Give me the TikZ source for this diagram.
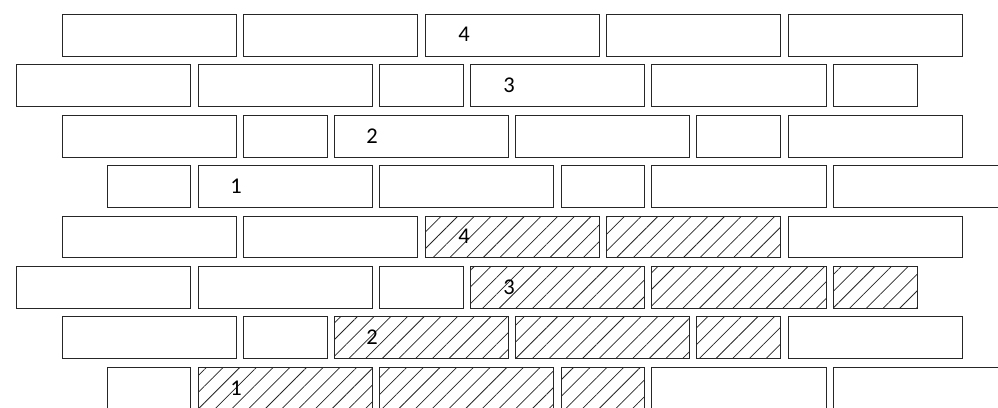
\documentclass[tikz,border=0pt]{standalone}
\usepackage{fontspec}
\setmainfont{Carlito}
\usetikzlibrary{patterns.meta}
\tikzset{
  brick/.style={draw=black!85, line width=1pt, inner sep=0pt, outer sep=0pt, minimum height=41.7pt},
  hatched/.style={pattern={Lines[angle=45,distance=11.8pt,line width=0.75pt]}, pattern color=black!85},
  lbl/.style={inner sep=0pt, font=\fontsize{22.5}{26}\selectfont, text=black}
}
% \brk[opts]{name}{x1}{x2}{ytop}
\newcommand\brk[5][]{\node[brick,#1,minimum width={#4-#3}] (#2) at ({(#3+#4)/2},{#5+20.85}) {};}
\begin{document}
\begin{tikzpicture}[x=1pt,y=-1pt]
\useasboundingbox (0,0) rectangle (998,407);
\clip (0,0) rectangle (998,407);
% ---------- upper wall ----------
% row 1
\brk{a1}{62}{236}{14.5}
\brk{a2}{243}{417}{14.5}
\brk{a3}{425}{599}{14.5}
\brk{a4}{606}{780}{14.5}
\brk{a5}{788}{962}{14.5}
% row 2
\brk{b1}{16}{190}{64.9}
\brk{b2}{198}{372}{64.9}
\brk{b3}{379}{463}{64.9}
\brk{b4}{470}{644}{64.9}
\brk{b5}{651}{826}{64.9}
\brk{b6}{833}{917}{64.9}
% row 3
\brk{c1}{62}{236}{115.3}
\brk{c2}{243}{327}{115.3}
\brk{c3}{334}{508}{115.3}
\brk{c4}{515}{689}{115.3}
\brk{c5}{696}{780}{115.3}
\brk{c6}{788}{962}{115.3}
% row 4
\brk{d1}{107}{190}{165.7}
\brk{d2}{198}{372}{165.7}
\brk{d3}{379}{553}{165.7}
\brk{d4}{561}{644}{165.7}
\brk{d5}{651}{826}{165.7}
\brk{d6}{833}{1007}{165.7}
% ---------- lower wall ----------
% row 5
\brk{e1}{62}{236}{216.1}
\brk{e2}{243}{417}{216.1}
\brk[hatched]{e3}{425}{599}{216.1}
\brk[hatched]{e4}{606}{780}{216.1}
\brk{e5}{788}{962}{216.1}
% row 6
\brk{f1}{16}{190}{266.5}
\brk{f2}{198}{372}{266.5}
\brk{f3}{379}{463}{266.5}
\brk[hatched]{f4}{470}{644}{266.5}
\brk[hatched]{f5}{651}{826}{266.5}
\brk[hatched]{f6}{833}{917}{266.5}
% row 7
\brk{g1}{62}{236}{316.9}
\brk{g2}{243}{327}{316.9}
\brk[hatched]{g3}{334}{508}{316.9}
\brk[hatched]{g4}{515}{689}{316.9}
\brk[hatched]{g5}{696}{780}{316.9}
\brk{g6}{788}{962}{316.9}
% row 8
\brk{h1}{107}{190}{367.3}
\brk[hatched]{h2}{198}{372}{367.3}
\brk[hatched]{h3}{379}{553}{367.3}
\brk[hatched]{h4}{561}{644}{367.3}
\brk{h5}{651}{826}{367.3}
\brk{h6}{833}{1007}{367.3}
% ---------- labels ----------
\node[lbl] (t4) at (464,34.5) {4};
\node[lbl] (t3) at (509,85.5) {3};
\node[lbl] (t2) at (372,136) {2};
\node[lbl] (t1) at (236,186.5) {1};
\node[lbl] (u4) at (464,236.5) {4};
\node[lbl] (u3) at (509,287) {3};
\node[lbl] (u2) at (372,337.5) {2};
\node[lbl] (u1) at (236,388) {1};
\end{tikzpicture}
\end{document}
